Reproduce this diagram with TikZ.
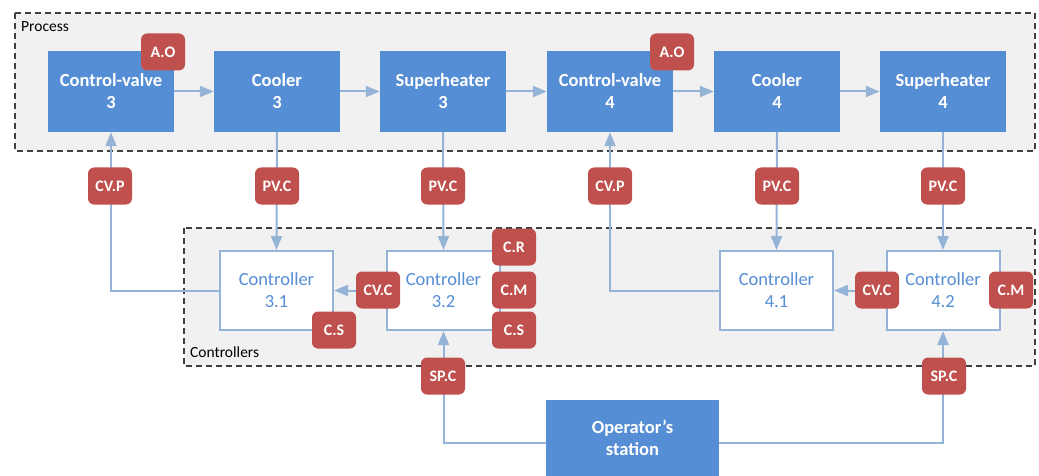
\documentclass[tikz,border=0pt]{standalone}
\usepackage{fontspec}
\setmainfont{Carlito}
\usetikzlibrary{arrows.meta}
\definecolor{procblue}{HTML}{558ED5}
\definecolor{badgered}{HTML}{C0504D}
\definecolor{linkblue}{HTML}{95B3D7}
\definecolor{framefill}{HTML}{F1F1F1}
\definecolor{framegray}{HTML}{404040}
\tikzset{
  proc/.style={fill=procblue, minimum width=126pt, minimum height=81pt, inner sep=0pt,
    text=white, align=center, font=\bfseries\fontsize{18.5}{22}\selectfont},
  ctrl/.style={draw=linkblue, line width=2pt, fill=white, minimum width=113pt,
    minimum height=79pt, inner sep=0pt, text=procblue, align=center,
    font=\fontsize{18.5}{22}\selectfont},
  badge/.style={fill=badgered, rounded corners=6pt, minimum width=44pt,
    minimum height=37pt, inner sep=0pt, text=white,
    font=\bfseries\fontsize{16}{18}\selectfont},
  link/.style={draw=linkblue, line width=2pt},
  arr/.style={link, -{Triangle[length=14pt,width=11pt]}},
  groupframe/.style={draw=framegray, fill=framefill, line width=1.1pt,
    dash pattern=on 6pt off 4pt},
  grouplabel/.style={anchor=west, inner sep=0pt, font=\fontsize{15.5}{18}\selectfont}
}
\begin{document}
\begin{tikzpicture}[x=1pt,y=-1pt]
\useasboundingbox (0,0) rectangle (1039,476);

% group frames
\draw[groupframe] (15,13) rectangle (1035,151);
\node[grouplabel] (lproc) at (21,27) {Process};
\draw[groupframe] (184,228) rectangle (1035,366);
\node[grouplabel] (lctrl) at (190,352) {Controllers};

% process chain
\node[proc] (cv3) at (111,91.5) {Control-valve\\3};
\node[proc] (co3) at (277,91.5) {Cooler\\3};
\node[proc] (sh3) at (443,91.5) {Superheater\\3};
\node[proc] (cv4) at (610,91.5) {Control-valve\\4};
\node[proc] (co4) at (777,91.5) {Cooler\\4};
\node[proc] (sh4) at (943,91.5) {Superheater\\4};

% controllers
\node[ctrl] (c31) at (276.5,290.5) {Controller\\3.1};
\node[ctrl] (c32) at (443.5,290.5) {Controller\\3.2};
\node[ctrl] (c41) at (776.5,290.5) {Controller\\4.1};
\node[ctrl] (c42) at (943,290.5) {Controller\\4.2};

% operator's station (runs past the lower edge)
\node[proc, minimum width=173pt, minimum height=76pt] (op) at (632.5,438) {Operator’s\\station};

% process flow
\draw[arr] (cv3) -- (co3);
\draw[arr] (co3) -- (sh3);
\draw[arr] (sh3) -- (cv4);
\draw[arr] (cv4) -- (co4);
\draw[arr] (co4) -- (sh4);

% measurements to controllers
\draw[arr] (co3.south) -- (c31.north);
\draw[arr] (sh3.south) -- (c32.north);
\draw[arr] (co4.south) -- (c41.north);
\draw[arr] (sh4.south) -- (c42.north);

% cascade outputs
\draw[arr] (c32.west) -- (c31.east);
\draw[arr] (c42.west) -- (c41.east);

% valve positions
\draw[arr] (c31.west) -| (cv3.south);
\draw[arr] (c41.west) -| (cv4.south);

% set points
\draw[arr] ([yshift=-5pt]op.west) -| (c32.south);
\draw[arr] ([yshift=-5pt]op.east) -| (c42.south);

% signal badges
\node[badge] (ao3) at (163,52) {A.O};
\node[badge] (ao4) at (672,52) {A.O};
\node[badge] (cvp3) at (110,186) {CV.P};
\node[badge] (cvp4) at (610,186) {CV.P};
\node[badge] (pvc31) at (277,186) {PV.C};
\node[badge] (pvc32) at (443,186) {PV.C};
\node[badge] (pvc41) at (777,186) {PV.C};
\node[badge] (pvc42) at (943,186) {PV.C};
\node[badge] (cvc3) at (378,290) {CV.C};
\node[badge] (cvc4) at (877,290) {CV.C};
\node[badge] (cr32) at (514,247) {C.R};
\node[badge] (cm32) at (514,290) {C.M};
\node[badge] (cs32) at (514,330) {C.S};
\node[badge] (cs31) at (334,330) {C.S};
\node[badge] (cm42) at (1011,290) {C.M};
\node[badge] (spc3) at (443,376) {SP.C};
\node[badge] (spc4) at (944,376) {SP.C};
\end{tikzpicture}
\end{document}
